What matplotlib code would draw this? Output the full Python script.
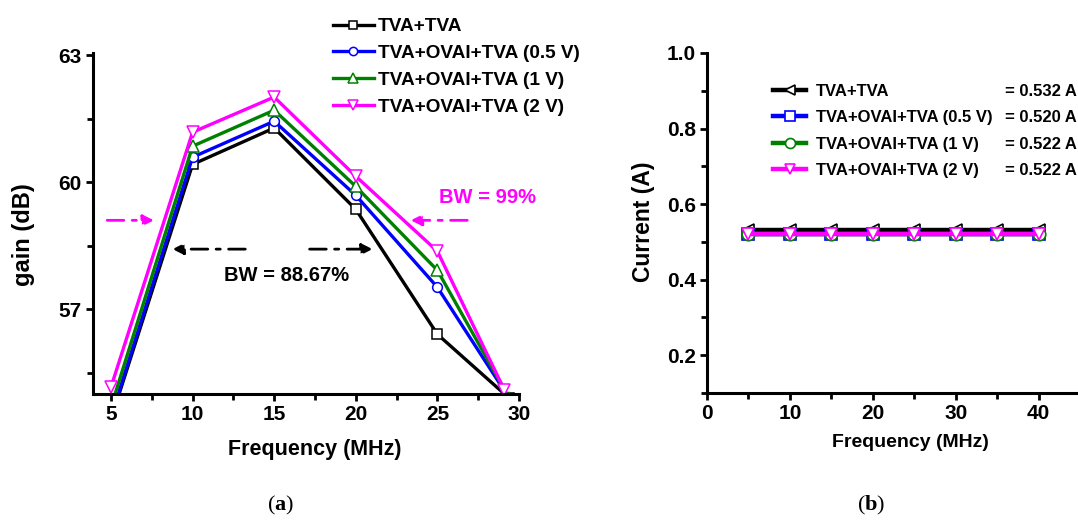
import matplotlib
matplotlib.use('Agg')
import matplotlib.pyplot as plt
from matplotlib.ticker import MultipleLocator

# panel (a): gain vs frequency
freq_a = [5, 10, 15, 20, 25, 29.4]
freq_a_2v = [5, 10, 15, 20, 25, 29.1]
gain_tva = [54.4, 60.42, 61.28, 59.36, 56.41, 54.9]
gain_05v = [54.45, 60.59, 61.44, 59.69, 57.52, 54.9]
gain_1v = [54.69, 60.85, 61.70, 59.90, 57.92, 54.9]
gain_2v = [55.16, 61.18, 62.01, 60.14, 58.37, 55.1]

# panel (b): current vs frequency
freq_b = [5, 10, 15, 20, 25, 30, 35, 40]
current_names = ['TVA+TVA', 'TVA+OVAI+TVA (0.5 V)', 'TVA+OVAI+TVA (1 V)', 'TVA+OVAI+TVA (2 V)']
current_vals = [0.532, 0.520, 0.522, 0.522]

colors = ['black', 'blue', 'green', 'magenta']
labels_a = ['TVA+TVA', 'TVA+OVAI+TVA (0.5 V)', 'TVA+OVAI+TVA (1 V)', 'TVA+OVAI+TVA (2 V)']

plt.rcParams['font.family'] = ['Liberation Sans', 'DejaVu Sans']
plt.rcParams['font.weight'] = 'bold'
plt.rcParams['mathtext.fontset'] = 'custom'
plt.rcParams['mathtext.rm'] = 'Liberation Serif'
plt.rcParams['mathtext.bf'] = 'Liberation Serif:bold'

W, H = 1078, 523
fig = plt.figure(figsize=(W / 100, H / 100), dpi=100)


def style_axes(ax):
    for s in ['top', 'right']:
        ax.spines[s].set_visible(False)
    for s in ['left', 'bottom']:
        ax.spines[s].set_linewidth(2.2)
    ax.tick_params(which='major', direction='out', length=5, width=2, labelsize=15, pad=3)
    ax.tick_params(which='minor', direction='out', length=4, width=2)
    for lab in ax.get_xticklabels() + ax.get_yticklabels():
        lab.set_fontweight('bold')


# ---------- (a) ----------
axa = fig.add_axes([93 / W, 1 - 394 / H, (519 - 93) / W, (394 - 53) / H])
series_a = [(freq_a, gain_tva, 's'), (freq_a, gain_05v, 'o'), (freq_a, gain_1v, '^'), (freq_a_2v, gain_2v, 'v')]
handles_a = []
for (fx, gy, mk), c, lab in zip(series_a, colors, labels_a):
    h, = axa.plot(fx, gy, color=c, lw=2.4, marker=mk, ms=7 if mk in 'so' else 8,
                  mfc='white', mec=c, mew=1.1, label=lab)
    handles_a.append(h)
axa.set_xlim(3.9, 30)
axa.set_ylim(55, 63.05)
axa.xaxis.set_major_locator(MultipleLocator(5))
axa.xaxis.set_minor_locator(MultipleLocator(2.5))
axa.yaxis.set_major_locator(MultipleLocator(3))
axa.yaxis.set_minor_locator(MultipleLocator(1.5))
style_axes(axa)
axa.set_xlabel('Frequency (MHz)', fontsize=15.5, fontweight='bold')
axa.xaxis.set_label_coords((315 - 93) / 426, -(439 - 394) / 341)
axa.set_ylabel('gain (dB)', fontsize=17, fontweight='bold')
axa.yaxis.set_label_coords((35 - 93) / 426, (394 - 235) / 341)

# bandwidth arrows
ap_m = dict(arrowstyle='-|>', color='magenta', lw=2, ls=(0, (6, 3, 1.5, 3)), mutation_scale=16)
axa.annotate('', xy=(7.8, 59.1), xytext=(4.6, 59.1), arrowprops=ap_m, annotation_clip=False)
axa.annotate('', xy=(23.2, 59.1), xytext=(27.0, 59.1), arrowprops=ap_m, annotation_clip=False)
axa.text(25.1, 59.65, 'BW = 99%', color='magenta', fontsize=14.5, fontweight='bold', va='center', ha='left')
ap_k = dict(arrowstyle='-|>', color='black', lw=2, ls=(0, (6, 3, 1.5, 3)), mutation_scale=16)
axa.annotate('', xy=(8.6, 58.42), xytext=(13.4, 58.42), arrowprops=ap_k)
axa.annotate('', xy=(21.2, 58.42), xytext=(17.0, 58.42), arrowprops=ap_k)
axa.text(15.76, 57.8, 'BW = 88.67%', color='black', fontsize=14.5, fontweight='bold', va='center', ha='center')

fig.legend(handles=handles_a, loc='upper left', bbox_to_anchor=(333 / W, 1 - 18 / H),
           frameon=False, borderpad=0, borderaxespad=0, handlelength=2.15, handletextpad=0.2,
           labelspacing=0.5, markerscale=0.85, prop={'size': 13.7, 'weight': 'bold'})

# ---------- (b) ----------
axb = fig.add_axes([707 / W, 1 - 393 / H, (1080 - 707) / W, (393 - 53) / H])
markers_b = ['<', 's', 'o', 'v']
handles_b = []
for val, c, mk, name in zip(current_vals, colors, markers_b, current_names):
    h, = axb.plot(freq_b, [val] * len(freq_b), color=c, lw=3.2, marker=mk, ms=9,
                  mfc='white', mec=c, mew=1.2, label=name)
    handles_b.append(h)
axb.set_xlim(0, 45)
axb.set_ylim(0.1, 1.0)
axb.xaxis.set_major_locator(MultipleLocator(10))
axb.xaxis.set_minor_locator(MultipleLocator(5))
axb.yaxis.set_major_locator(MultipleLocator(0.2))
axb.yaxis.set_minor_locator(MultipleLocator(0.1))
axb.set_yticks([0.2, 0.4, 0.6, 0.8, 1.0])
style_axes(axb)
axb.set_xlabel('Frequency (MHz)', fontsize=14, fontweight='bold')
axb.xaxis.set_label_coords((910 - 707) / 373, -(434 - 393) / 340)
axb.set_ylabel('Current (A)', fontsize=16.5, fontweight='bold')
axb.yaxis.set_label_coords((655 - 707) / 373, (393 - 222) / 340)

leg_b = fig.legend(handles=handles_b, loc='upper left', bbox_to_anchor=(773 / W, 1 - 84 / H),
                   frameon=False, borderpad=0, borderaxespad=0, handlelength=2.0, handletextpad=0.6,
                   labelspacing=0.68, markerscale=0.8, prop={'size': 12, 'weight': 'bold'})

fig.canvas.draw()
r = fig.canvas.get_renderer()
for t, val in zip(leg_b.get_texts(), current_vals):
    bb = t.get_window_extent(r)
    yc = (bb.y0 + bb.y1) / 2 / fig.bbox.height
    fig.text(1077 / W, yc, '= %.3f A' % val, ha='right', va='center', fontsize=12,
             fontweight='bold')

fig.text(281 / W, 1 - 505 / H, r'($\mathbf{a}$)', fontsize=16, ha='center', va='center',
         family='Liberation Serif', fontweight='normal')
fig.text(871 / W, 1 - 505 / H, r'($\mathbf{b}$)', fontsize=16, ha='center', va='center',
         family='Liberation Serif', fontweight='normal')

fig.savefig('out.png', dpi=100)
